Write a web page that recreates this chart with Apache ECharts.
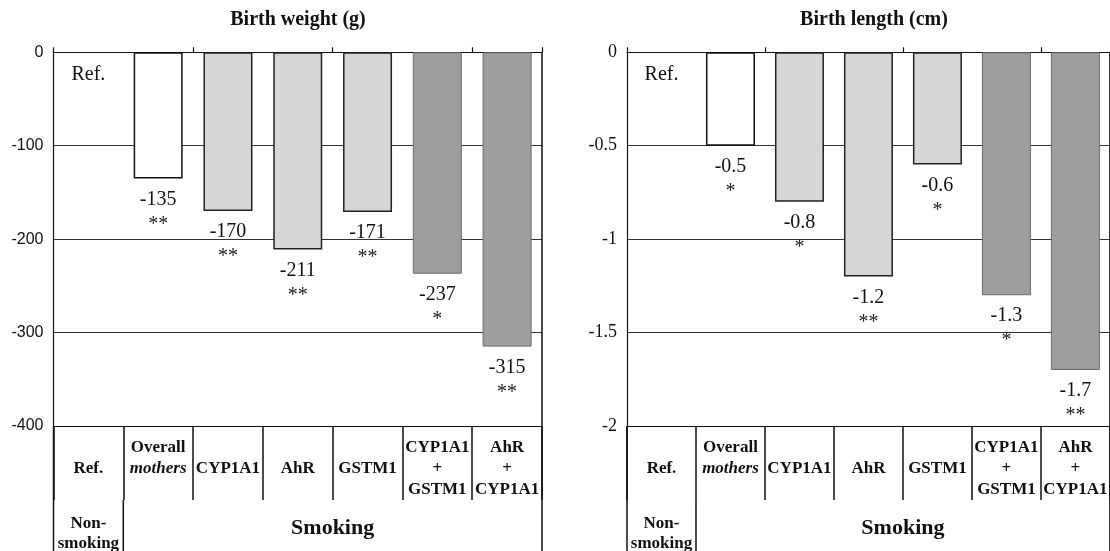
<!DOCTYPE html>
<html>
<head>
<meta charset="utf-8">
<script src="https://cdn.jsdelivr.net/npm/echarts@6.0.0/dist/echarts.min.js"></script>
<style>
  html, body { margin: 0; padding: 0; background: #fff; }
  #main { width: 1110px; height: 551px; }
</style>
</head>
<body>
<div id="main"></div>
<script>
var categories = ['Ref.', 'Overall mothers', 'CYP1A1', 'AhR', 'GSTM1', 'CYP1A1 + GSTM1', 'AhR + CYP1A1'];
var tableLabels = [['', 'Ref.'], ['Overall', 'mothers'], ['', 'CYP1A1'], ['', 'AhR'], ['', 'GSTM1'], ['CYP1A1', '+', 'GSTM1'], ['AhR', '+', 'CYP1A1']];
var italicWords = ['mothers'];
var barKinds = ['ref', 'overall', 'single', 'single', 'single', 'combo', 'combo'];

var weightValues = [0, -135, -170, -211, -171, -237, -315];
var weightSig = ['', '**', '**', '**', '**', '*', '**'];
var lengthValues = [0, -0.5, -0.8, -1.2, -0.6, -1.3, -1.7];
var lengthSig = ['', '*', '*', '**', '*', '*', '**'];

var serif = '"Liberation Serif", "Times New Roman", serif';

var kindStyle = {
    ref: { color: 'rgba(0,0,0,0)', borderWidth: 0 },
    overall: { color: '#ffffff', borderColor: '#111', borderWidth: 1.5 },
    single: { color: '#d6d6d6', borderColor: '#222', borderWidth: 1.5 },
    combo: { color: '#9e9e9e', borderColor: '#6a6a6a', borderWidth: 1 }
};

var chart = echarts.init(document.getElementById('main'));

function barData(values) {
    return values.map((v, i) => ({ value: v, itemStyle: kindStyle[barKinds[i]] }));
}

function barSeries(name, values, sig, xi, yi) {
    return {
        name: name,
        type: 'bar',
        xAxisIndex: xi,
        yAxisIndex: yi,
        barWidth: 49,
        data: barData(values),
        label: {
            show: true,
            position: 'bottom',
            distance: 10,
            formatter: function (p) {
                if (p.dataIndex === 0) return '{ref|Ref.}';
                return '{n|' + p.value + '}\n{s|' + sig[p.dataIndex] + '}';
            },
            rich: {
                n: { fontFamily: serif, fontSize: 20, lineHeight: 22, color: '#111' },
                s: { fontFamily: serif, fontSize: 20, lineHeight: 28, color: '#222' },
                ref: { fontFamily: serif, fontSize: 20, lineHeight: 24, color: '#111' }
            }
        }
    };
}

function topAxis(gi) {
    return {
        type: 'category', gridIndex: gi, position: 'top', data: categories,
        axisLine: { onZero: false, lineStyle: { color: '#111', width: 1 } },
        axisTick: { show: true, length: 5, lineStyle: { color: '#111', width: 1.2 } },
        axisLabel: { show: false }
    };
}

function bottomAxis(gi) {
    return {
        type: 'category', gridIndex: gi, position: 'bottom', data: categories,
        axisLine: { onZero: false, lineStyle: { color: '#111', width: 1.2 } },
        axisTick: { show: true, length: 74, lineStyle: { color: '#111', width: 1.5 } },
        axisLabel: {
            interval: 0, margin: 11, verticalAlign: 'top', color: '#111',
            formatter: function (value, index) {
                return tableLabels[index].map(t => {
                    var key = italicWords.indexOf(t) >= 0 ? 'i' : 'b';
                    return '{' + key + '|' + (t || ' ') + '}';
                }).join('\n');
            },
            rich: {
                b: { fontFamily: serif, fontSize: 17, fontWeight: 'bold', lineHeight: 21, color: '#111' },
                i: { fontFamily: serif, fontSize: 17, fontWeight: 'bold', fontStyle: 'italic', lineHeight: 21, color: '#111' }
            }
        }
    };
}

function valueAxis(gi, min, interval, labelFont) {
    return {
        type: 'value', gridIndex: gi, min: min, max: 0, interval: interval,
        axisLine: { show: true, lineStyle: { color: '#111', width: 1.2 } },
        axisTick: { show: false },
        axisLabel: Object.assign({ margin: 10, color: '#111' }, labelFont),
        splitLine: { show: true, lineStyle: { color: '#333', width: 1 } }
    };
}

var option = {
    animation: false,
    backgroundColor: '#fff',
    title: [
        { text: 'Birth weight (g)', left: 298, top: 10, textAlign: 'center', padding: 0,
          textStyle: { fontFamily: serif, fontSize: 20, fontWeight: 'bold', color: '#111' } },
        { text: 'Birth length (cm)', left: 874, top: 10, textAlign: 'center', padding: 0,
          textStyle: { fontFamily: serif, fontSize: 20, fontWeight: 'bold', color: '#111' } }
    ],
    grid: [
        { left: 53.5, top: 52.3, width: 488.5, height: 373.7 },
        { left: 627, top: 52.3, width: 490, height: 373.7 }
    ],
    xAxis: [topAxis(0), bottomAxis(0), topAxis(1), bottomAxis(1)],
    yAxis: [
        valueAxis(0, -400, 100, { fontFamily: '"Liberation Sans", Arial, sans-serif', fontSize: 16 }),
        valueAxis(1, -2, 0.5, { fontFamily: serif, fontSize: 18 })
    ],
    series: [
        barSeries('Birth weight', weightValues, weightSig, 0, 0),
        barSeries('Birth length', lengthValues, lengthSig, 2, 1)
    ]
};

chart.setOption(option);

// table frame below each plot (lines that run past the axes, group captions)
function frame(xi, yi, min) {
    var cx = categories.map(c => chart.convertToPixel({ xAxisIndex: xi }, c));
    var half = (cx[1] - cx[0]) / 2;
    var top = chart.convertToPixel({ yAxisIndex: yi }, 0);
    var bottom = chart.convertToPixel({ yAxisIndex: yi }, min);
    var line = (x, y1, y2) => ({
        type: 'line', shape: { x1: x, y1: y1, x2: x, y2: y2 },
        style: { stroke: '#111', lineWidth: 1.5 }
    });
    return [
        line(cx[0] - half, bottom, 551),
        line(cx[0] + half, bottom + 74, 551),
        line(cx[6] + half, top, 551),
        { type: 'text', x: cx[0], y: 534,
          style: { text: 'Non-\nsmoking', align: 'center', verticalAlign: 'middle', lineHeight: 20,
                   fontFamily: serif, fontSize: 17, fontWeight: 'bold', fill: '#111' } },
        { type: 'text', x: (cx[1] + cx[6]) / 2, y: 528,
          style: { text: 'Smoking', align: 'center', verticalAlign: 'middle',
                   fontFamily: serif, fontSize: 22, fontWeight: 'bold', fill: '#111' } }
    ];
}

chart.setOption({ graphic: frame(0, 0, -400).concat(frame(2, 1, -2)) });
</script>
</body>
</html>
